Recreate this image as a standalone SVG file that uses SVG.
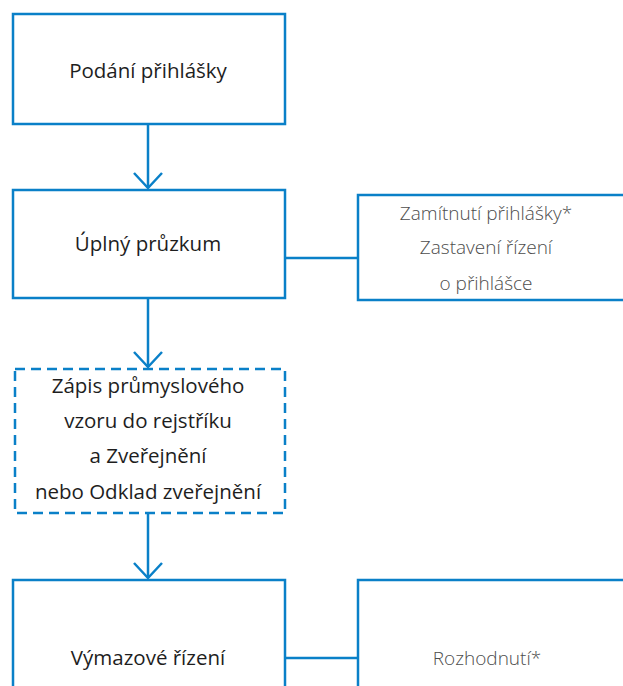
<svg xmlns="http://www.w3.org/2000/svg" width="623" height="686" viewBox="0 0 623 686">
  <style>
    .box { fill: #ffffff; stroke: #0a80c8; stroke-width: 2.5; }
    .dash { stroke-dasharray: 10 6; }
    .main { font-family: "Open Sans", "Noto Sans", sans-serif; font-size: 20.5px; font-weight: 500; fill: #1e1e1e; text-anchor: middle; }
    .side { font-family: "Open Sans", "Noto Sans", sans-serif; font-size: 19px; font-weight: 300; fill: #4d4d4d; text-anchor: middle; }
    .line { fill: none; stroke: #0a80c8; stroke-width: 2.5; }
  </style>
  <rect width="623" height="686" fill="#ffffff"/>

  <g id="connectors">
    <line class="line" x1="148" y1="124" x2="148" y2="188"/>
    <path class="line" d="M 134 173 L 148 188 L 162 173"/>
    <line class="line" x1="148" y1="298" x2="148" y2="367"/>
    <path class="line" d="M 134 352 L 148 367 L 162 352"/>
    <line class="line" x1="148" y1="513" x2="148" y2="578"/>
    <path class="line" d="M 134 563 L 148 578 L 162 563"/>
    <line class="line" x1="285" y1="258" x2="357" y2="258"/>
    <line class="line" x1="285" y1="658" x2="357" y2="658"/>
  </g>

  <g id="podani">
    <rect class="box" x="13" y="14" width="272" height="110"/>
    <text class="main" x="148" y="78">Podání přihlášky</text>
  </g>

  <g id="pruzkum">
    <rect class="box" x="13" y="190" width="272" height="108"/>
    <text class="main" x="148" y="251">Úplný průzkum</text>
  </g>

  <g id="zamitnuti">
    <rect class="box" x="358" y="195" width="270" height="105"/>
    <text class="side" x="486" y="220">Zamítnutí přihlášky*</text>
    <text class="side" x="486" y="254">Zastavení řízení</text>
    <text class="side" x="486" y="290">o přihlášce</text>
  </g>

  <g id="zapis">
    <rect class="box dash" x="15" y="369" width="270" height="144"/>
    <text class="main" x="148" y="393">Zápis průmyslového</text>
    <text class="main" x="148" y="428">vzoru do rejstříku</text>
    <text class="main" x="148" y="463">a Zveřejnění</text>
    <text class="main" x="148" y="499">nebo Odklad zveřejnění</text>
  </g>

  <g id="vymaz">
    <rect class="box" x="13" y="580" width="272" height="120"/>
    <text class="main" x="148" y="665">Výmazové řízení</text>
  </g>

  <g id="rozhodnuti">
    <rect class="box" x="358" y="580" width="270" height="120"/>
    <text class="side" x="487" y="665">Rozhodnutí*</text>
  </g>
</svg>
